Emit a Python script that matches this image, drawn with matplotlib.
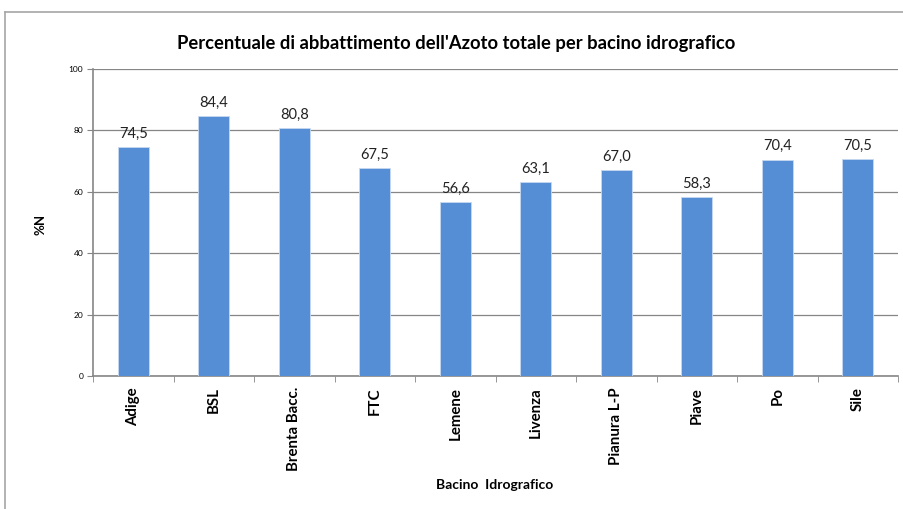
import numpy as np
import matplotlib.pyplot as plt
from matplotlib.lines import Line2D

plt.rcParams["font.family"] = ["Lato", "DejaVu Sans"]

# abbattimento azoto totale per bacino
bacini = ['Adige', 'BSL', 'Brenta Bacc.', 'FTC', 'Lemene', 'Livenza',
          'Pianura L-P', 'Piave', 'Po', 'Sile']
perc_N = [74.5, 84.4, 80.8, 67.5, 56.6, 63.1, 67.0, 58.3, 70.4, 70.5]
y_ticks = [0, 20, 40, 60, 80, 100]

fig = plt.figure(figsize=(9.04, 5.09), dpi=100)
ax = fig.add_axes([0.1029, 0.2613, 0.8905, 0.6041])

x = np.arange(len(bacini))
bars = ax.bar(x, perc_N, width=0.39, color='#558ED5', edgecolor='#C6D9F1',
              linewidth=0.6, zorder=3)
for b, v in zip(bars, perc_N):
    ax.text(b.get_x() + b.get_width() / 2, v + 2.0, f"{v:.1f}".replace('.', ','),
            ha='center', va='bottom', fontsize=10.5, color='#222222')

ax.set_xlim(-0.5, len(bacini) - 0.5)
ax.set_ylim(0, 100)
ax.set_yticks(y_ticks)
ax.set_yticklabels([str(t) for t in y_ticks], fontsize=6)
ax.yaxis.grid(True, color='#868686', linewidth=0.9, zorder=0)
ax.set_axisbelow(True)

ax.set_xticks(x)
ax.set_xticklabels(bacini, rotation=90, fontsize=10.8, fontweight='bold')
ax.set_xticks(np.arange(-0.5, len(bacini)), minor=True)
ax.tick_params(axis='x', which='major', length=0, pad=8)
ax.tick_params(axis='x', which='minor', length=4, color='#868686')
ax.tick_params(axis='y', length=4, color='#868686', pad=3)

for s in ['top', 'right']:
    ax.spines[s].set_visible(False)
for s in ['left', 'bottom']:
    ax.spines[s].set_color('#868686')
    ax.spines[s].set_linewidth(1.2)

fig.text(0.505, 0.915, "Percentuale di abbattimento dell'Azoto totale per bacino idrografico",
         ha='center', va='center', fontsize=13.2, fontweight='bold')
fig.text(0.547, 0.047, 'Bacino  Idrografico', ha='center', va='center',
         fontsize=10, fontweight='bold')
fig.text(0.045, 0.56, '%N', ha='center', va='center', rotation=90,
         fontsize=9.5, fontweight='bold')

# cornice del grafico
fig.add_artist(Line2D([0.006, 0.006], [0, 0.977], color='#A6A6A6', linewidth=1.2))
fig.add_artist(Line2D([0.006, 1.0], [0.977, 0.977], color='#A6A6A6', linewidth=1.2))

plt.savefig('out.png', dpi=100)
